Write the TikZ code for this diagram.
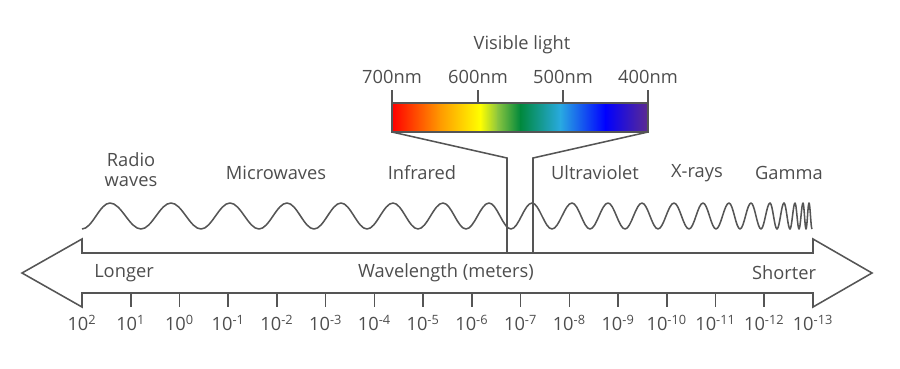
\documentclass[tikz,border=0pt]{standalone}
\usepackage{fontspec}
\setmainfont{Open Sans}
\definecolor{ink}{HTML}{555555}
\definecolor{txt}{HTML}{4D4D4D}
\definecolor{sp1}{HTML}{FF0000}
\definecolor{sp2}{HTML}{FF9A00}
\definecolor{sp3}{HTML}{FFFF00}
\definecolor{sp4}{HTML}{8CC63F}
\definecolor{sp5}{HTML}{00883C}
\definecolor{sp6}{HTML}{29AAE1}
\definecolor{sp7}{HTML}{0000FF}
\definecolor{sp8}{HTML}{5E2B8F}
\tikzset{lbl/.style={text=txt,font=\fontsize{13}{14.2}\selectfont,inner sep=0pt},
  inkline/.style={draw=ink,line width=1.1pt}}

\begin{document}
\begin{tikzpicture}[x=0.025cm,y=-0.025cm]
\useasboundingbox (0,0) rectangle (900,368);
\draw[inkline] (82,253) -- (813,253) -- (813,239) -- (872,273) -- (813,307) -- (813,293) -- (82,293) -- (82,307) -- (22,273) -- (82,239) -- cycle;
\foreach \k in {0,...,15} { \pgfmathsetmacro\e{int(2-\k)} \coordinate (tk\k) at ({82+48.73*\k},293); \draw[inkline] (tk\k) -- ++(0,14); \node[lbl] (ex\k) at ({82+48.73*\k},323) {10\textsuperscript{\e}}; };
\draw[inkline,line join=round] (82,229) foreach \x [remember=\x as \px (initially 82), count=\i] in {110,141,171,201,230,259,287,314,341,367,393,418,443,466,489,511,532,552,572,590,608,625,642,658,674,689,703,716,729,740,751,761,770,777,784,790,795,799,803,806,809,812} { cos ({(\px+\x)/2},216) sin (\x,{229-26*mod(\i,2)}) };
\foreach \a/\b/\ca/\cb in {392/440/sp1/sp2, 440/480/sp2/sp3, 480/497/sp3/sp4, 497/520/sp4/sp5, 520/560/sp5/sp6, 560/605/sp6/sp7, 605/648/sp7/sp8} { \shade[left color=\ca,right color=\cb] (\a,103) rectangle (\b+0.6,132); };
\node[inkline,minimum width=6.4cm,minimum height=0.725cm,outer sep=0pt] (bar) at (520,117.5) {};
\foreach \w/\x in {700/392,600/478,500/563,400/648} { \draw[inkline] (\x,103) -- (\x,90); \node[lbl] (nm\w) at (\x,77) {\w nm}; };
\node[lbl] (vis) at (522,45) {Visible light};
\coordinate (ir) at (507,158); \coordinate (uv) at (533,158);
\draw[inkline] (bar.south west) -- (ir) -- (ir |- 0,253);
\draw[inkline] (bar.south east) -- (uv) -- (uv |- 0,253);
\node[lbl,align=center] (radio) at (131,170) {Radio\\waves};
\node[lbl] (micro) at (276,173) {Microwaves};
\node[lbl] (infra) at (422,173) {Infrared};
\node[lbl] (ultra) at (595,173) {Ultraviolet};
\node[lbl] (xray) at (697,173) {X-rays};
\node[lbl] (gamma) at (789,173) {Gamma};
\node[lbl] (long) at (124,273) {Longer};
\node[lbl] (wave) at (446,273) {Wavelength (meters)};
\node[lbl] (short) at (784,273) {Shorter};
\end{tikzpicture}
\end{document}
